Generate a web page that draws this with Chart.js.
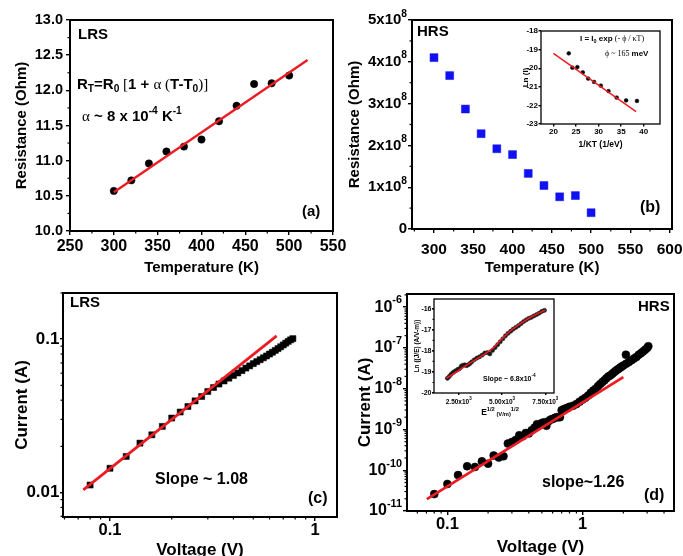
<!DOCTYPE html>
<html>
<head>
<meta charset="utf-8">
<script src="https://cdn.jsdelivr.net/npm/chart.js@4.4.1/dist/chart.umd.min.js"></script>
<style>
  html, body { margin: 0; background: #fff; }
  #wrap { position: relative; width: 683px; height: 556px; overflow: hidden; background: #fff; }
  #wrap canvas { position: absolute; left: 0; top: 0; }
</style>
</head>
<body>
<div id="wrap">
  <canvas id="chartA" width="683" height="556"></canvas>
  <canvas id="chartB" width="683" height="556"></canvas>
  <canvas id="chartBin" width="683" height="556"></canvas>
  <canvas id="chartC" width="683" height="556"></canvas>
  <canvas id="chartD" width="683" height="556"></canvas>
  <canvas id="chartDin" width="683" height="556"></canvas>
</div>
<script>
/* ---------- data ---------- */

// (a) LRS: resistance vs temperature
const tempA = [300, 320, 340, 360, 380, 400, 420, 440, 460, 480, 500];
const resA = [10.57, 10.72, 10.96, 11.13, 11.20, 11.30, 11.56, 11.78, 12.09, 12.10, 12.21];
const fitAT = [300, 521];
const fitAR = [10.55, 12.43];
const ticksAX = [250, 300, 350, 400, 450, 500, 550];
const ticksAY = [10, 10.5, 11, 11.5, 12, 12.5, 13];

// (b) HRS: resistance vs temperature
const tempB = [300, 320, 340, 360, 380, 400, 420, 440, 460, 480, 500];
const resB = [4.10e8, 3.67e8, 2.87e8, 2.28e8, 1.92e8, 1.78e8, 1.33e8, 1.04e8, 0.77e8, 0.80e8, 0.39e8];
const ticksBX = [300, 350, 400, 450, 500, 550, 600];
const ticksBY = [0, 1e8, 2e8, 3e8, 4e8, 5e8];

// (b) inset: Ln(I) vs 1/kT
const invKT = [23.4, 24.2, 25.3, 26.5, 27.7, 29.0, 30.5, 32.2, 34.0, 36.1, 38.5];
const lnI = [-19.20, -19.97, -19.94, -20.22, -20.56, -20.74, -20.94, -21.23, -21.58, -21.73, -21.76];
const fitBinX = [20, 38.3];
const fitBinY = [-19.2, -22.34];
const ticksBinX = [20, 25, 30, 35, 40];
const ticksBinY = [-23, -22, -21, -20, -19, -18];

// (c) LRS: I-V, log-log
const voltC = [0.08, 0.10, 0.12, 0.14, 0.16, 0.18, 0.20, 0.22, 0.24, 0.26, 0.28, 0.30, 0.32, 0.34, 0.36, 0.38,
  0.40, 0.42, 0.44, 0.46, 0.48, 0.50, 0.52, 0.54, 0.56, 0.58, 0.60, 0.62, 0.64, 0.66, 0.68, 0.70, 0.72, 0.74, 0.76, 0.78];
const curC = [0.0112, 0.0144, 0.0172, 0.0210, 0.0238, 0.0270, 0.0306, 0.0335, 0.0364, 0.0396, 0.0423, 0.0456,
  0.0484, 0.0510, 0.0534, 0.0557, 0.0580, 0.0602, 0.0624, 0.0648, 0.0670, 0.0693, 0.0714, 0.0735, 0.0756, 0.0777,
  0.0800, 0.0822, 0.0845, 0.0868, 0.0892, 0.0917, 0.0942, 0.0967, 0.0990, 0.1008];
const fitCV = [0.0741, 0.65];
const fitCI = [0.0104, 0.105];
const ticksCX = [0.1, 1];
const ticksCY = [0.01, 0.1];

// (d) HRS: I-V, log-log
const voltD = [0.08, 0.10, 0.12, 0.14, 0.16, 0.18, 0.20, 0.22, 0.24, 0.26, 0.28, 0.30, 0.32, 0.34, 0.36, 0.38,
  0.40, 0.42, 0.44, 0.46, 0.48, 0.50, 0.52, 0.54, 0.56, 0.58, 0.60, 0.62, 0.64, 0.66, 0.68, 0.70, 0.72, 0.74,
  0.76, 0.78, 0.80, 0.85, 0.90, 0.95, 1.00, 1.05, 1.10, 1.15, 1.20, 1.25, 1.30, 1.35, 1.40, 1.45, 1.50, 1.55,
  1.60, 1.65, 1.70, 1.75, 1.80, 1.85, 1.90, 1.95, 2.00, 2.09, 2.10, 2.20, 2.30, 2.40, 2.50, 2.60, 2.70, 2.80,
  2.90, 3.00, 3.06];
const curD = [2.6e-11, 4.6e-11, 7.6e-11, 1.25e-10, 1.2e-10, 1.65e-10, 1.45e-10, 2.3e-10, 2.05e-10, 2.2e-10,
  4.5e-10, 4.9e-10, 5.5e-10, 7.2e-10, 6.8e-10, 8.2e-10, 8.0e-10, 9.5e-10, 1.1e-9, 1.35e-9, 1.3e-9, 1.45e-9,
  1.5e-9, 1.23e-9, 1.6e-9, 1.75e-9, 1.8e-9, 1.9e-9, 2.0e-9, 2.0e-9, 2.0e-9, 2.95e-9, 3.1e-9, 3.2e-9, 3.3e-9,
  3.4e-9, 3.6e-9, 3.8e-9, 4.2e-9, 4.8e-9, 5.4e-9, 6.0e-9, 6.8e-9, 8.0e-9, 9.0e-9, 1.0e-8, 1.15e-8, 1.3e-8,
  1.45e-8, 1.6e-8, 1.8e-8, 2.0e-8, 2.1e-8, 2.3e-8, 2.5e-8, 2.7e-8, 2.9e-8, 3.1e-8, 3.3e-8, 3.5e-8, 3.7e-8,
  6.8e-8, 4.1e-8, 4.5e-8, 5.0e-8, 5.5e-8, 6.0e-8, 6.8e-8, 7.4e-8, 8.2e-8, 9.0e-8, 1.0e-7, 1.1e-7];
const fitDV = [0.0705, 2.0];
const fitDI = [1.96e-11, 1.92e-8];
const ticksDX = [0.1, 1];
const ticksDY = [1e-11, 1e-10, 1e-9, 1e-8, 1e-7, 1e-6];

// (d) inset: Ln(J/E) vs E^1/2
const sqrtE = [1850, 1950, 2050, 2150, 2250, 2350, 2450, 2550, 2650, 2750, 2850, 2950, 3050, 3150, 3250, 3400,
  3550, 3700, 3850, 4000, 4150, 4300, 4450, 4600, 4750, 4900, 5050, 5200, 5350, 5500, 5650, 5800, 5950, 6100,
  6250, 6400, 6550, 6700, 6850, 7000, 7150, 7300, 7450];
const lnJE = [-19.30, -19.22, -19.12, -19.04, -18.98, -18.93, -18.88, -18.84, -18.72, -18.68, -18.66, -18.70,
  -18.66, -18.60, -18.52, -18.42, -18.34, -18.28, -18.20, -18.10, -18.08, -18.14, -17.98, -17.84, -17.70, -17.56,
  -17.42, -17.28, -17.16, -17.06, -16.96, -16.88, -16.80, -16.70, -16.60, -16.52, -16.45, -16.40, -16.33, -16.27,
  -16.20, -16.12, -16.07];
const fitDinX = [1800, 2500, 3000, 3500, 4000, 4500, 5000, 5500, 6000, 6500, 7000, 7500];
const fitDinY = [-19.30, -18.93, -18.65, -18.40, -18.15, -17.85, -17.42, -17.03, -16.74, -16.47, -16.25, -16.05];
const ticksDinX = [2500, 5000, 7500];
const ticksDinY = [-20, -19, -18, -17, -16];

/* ---------- helpers ---------- */

const FONT = "'Liberation Sans', Arial, sans-serif";
const SERIF = "'Liberation Serif', 'Times New Roman', serif";
const RED = '#ec1c24';

const pts = (xs, ys) => xs.map((x, i) => ({ x, y: ys[i] }));

function linMinor(from, to, step) {
  const out = [];
  for (let v = from; v <= to + 1e-9; v += step) out.push(+v.toFixed(6));
  return out;
}
function logMinor(lo, hi) {
  const out = [];
  for (let e = Math.floor(Math.log10(lo)); e <= Math.ceil(Math.log10(hi)); e++) {
    for (let m = 2; m <= 9; m++) {
      const v = +(m * Math.pow(10, e)).toPrecision(6);
      if (v >= lo && v <= hi) out.push(v);
    }
  }
  return out;
}

// text with super/subscripts: parts = [[text, mode]], mode '' | 'sup' | 'sub' | 'low' | 'n' (serif, normal)
function drawRich(ctx, parts, x, y, align, size, rot) {
  ctx.save();
  ctx.translate(x, y);
  if (rot) ctx.rotate(rot);
  ctx.textBaseline = 'middle';
  ctx.textAlign = 'left';
  ctx.fillStyle = '#000';
  const items = parts.map(([t, m]) => {
    const small = m === 'sup' || m === 'sub' || m === 'low';
    const s = small ? size * 0.68 : size;
    const f = m === 'n' ? `normal ${s}px ${SERIF}` : `bold ${s}px ${FONT}`;
    ctx.font = f;
    const dy = m === 'sup' ? -size * 0.42 : m === 'sub' ? size * 0.3 : m === 'low' ? size * 0.12 : 0;
    return { t, f, w: ctx.measureText(t).width, dy };
  });
  const total = items.reduce((a, it) => a + it.w, 0);
  let cx = align === 'right' ? -total : align === 'center' ? -total / 2 : 0;
  items.forEach(it => { ctx.font = it.f; ctx.fillText(it.t, cx, it.dy); cx += it.w; });
  ctx.restore();
}

const panelPlugin = {
  id: 'panel',
  beforeDraw(chart, args, o) {
    if (!o.fill) return;
    const a = chart.chartArea;
    chart.ctx.save();
    chart.ctx.fillStyle = '#fff';
    chart.ctx.fillRect(a.left, a.top, a.right - a.left, a.bottom - a.top);
    chart.ctx.restore();
  },
  afterDraw(chart, args, o) {
    const { ctx, chartArea: a, scales } = chart;
    ctx.save();
    ctx.strokeStyle = '#000';
    ctx.lineWidth = 1.2;
    const len = o.minorLen || 2.5;
    (o.minorX || []).forEach(v => {
      const px = scales.x.getPixelForValue(v);
      ctx.beginPath(); ctx.moveTo(px, a.bottom); ctx.lineTo(px, a.bottom + len); ctx.stroke();
    });
    (o.minorY || []).forEach(v => {
      const py = scales.y.getPixelForValue(v);
      ctx.beginPath(); ctx.moveTo(a.left, py); ctx.lineTo(a.left - len, py); ctx.stroke();
    });
    ctx.lineWidth = o.frame || 2;
    ctx.strokeRect(a.left, a.top, a.right - a.left, a.bottom - a.top);
    ctx.restore();
    if (o.yLabel) scales.y.ticks.forEach(t =>
      drawRich(ctx, o.yLabel(t.value), a.left - o.yGap, scales.y.getPixelForValue(t.value), 'right', o.tickSize));
    if (o.xLabel) scales.x.ticks.forEach(t =>
      drawRich(ctx, o.xLabel(t.value), scales.x.getPixelForValue(t.value), a.bottom + o.xGap, 'center', o.tickSize));
    (o.notes || []).forEach(n => drawRich(ctx, n.parts, n.x, n.y, n.align || 'left', n.size, n.rot));
  }
};

function scale(o) {
  const vert = o.pos === 'left';
  return {
    type: o.type || 'linear', position: o.pos, min: o.min, max: o.max,
    grid: { drawOnChartArea: false, drawTicks: true, tickLength: o.tl, color: '#000', lineWidth: 1.4 },
    border: { display: false },
    ticks: {
      display: !o.rich, color: '#000', padding: o.pad || 0, autoSkip: false, maxRotation: 0, minRotation: 0,
      font: { family: FONT, weight: 'bold', size: o.size || 12 }, callback: o.fmt || (v => String(v)),
    },
    title: {
      display: !!o.title, text: o.title, color: '#000', padding: o.tpad || 0,
      font: { family: FONT, weight: 'bold', size: o.tsize },
    },
    afterBuildTicks: s => { s.ticks = o.ticks.map(v => ({ value: v })); },
    afterFit: s => {
      if (vert) s.width = o.box; else s.height = o.box;
      s.paddingLeft = s.paddingRight = s.paddingTop = s.paddingBottom = 0;
    },
  };
}

const dots = (xs, ys, r, color, style) => ({
  data: pts(xs, ys), pointRadius: r, pointStyle: style || 'circle',
  pointBackgroundColor: color, pointBorderColor: color, pointBorderWidth: 0.5, showLine: false,
});
const fit = (xs, ys, w) => ({
  data: pts(xs, ys), showLine: true, pointRadius: 0, borderColor: RED, borderWidth: w, tension: 0,
});

function make(id, datasets, padding, x, y, panel) {
  return new Chart(document.getElementById(id), {
    type: 'scatter',
    data: { datasets },
    options: {
      responsive: false, animation: false, events: [],
      layout: { padding },
      plugins: { legend: { display: false }, tooltip: { enabled: false }, panel },
      scales: { x, y },
    },
    plugins: [panelPlugin],
  });
}

/* ---------- (a) ---------- */
make('chartA',
  [fit(fitAT, fitAR, 2.4), dots(tempA, resA, 3.7, '#000')],
  { left: 13, top: 20, right: 350, bottom: 279 },
  scale({ pos: 'bottom', min: 250, max: 550, ticks: ticksAX, tl: 4, pad: 1.5, size: 16, title: 'Temperature (K)', tsize: 15, box: 46 }),
  scale({ pos: 'left', min: 10, max: 13, ticks: ticksAY, tl: 4, pad: 3, size: 14.5, fmt: v => v.toFixed(1), title: 'Resistance (Ohm)', tsize: 15, box: 57 }),
  {
    minorX: linMinor(275, 525, 50), minorY: linMinor(10.25, 12.75, 0.5),
    notes: [
      { x: 78, y: 35, size: 15, parts: [['LRS', '']] },
      { x: 77, y: 85, size: 15, parts: [['R', ''], ['T', 'sub'], ['=R', ''], ['0', 'sub'], [' [', 'n'], ['1 + ', ''], ['α', 'n'], [' (', 'n'], ['T-T', ''], ['0', 'sub'], [')]', 'n']] },
      { x: 82, y: 117, size: 15, parts: [['α', 'n'], [' ~ ', ''], ['8 x 10', ''], ['-4', 'sup'], [' K', ''], ['-1', 'sup']] },
      { x: 302, y: 212, size: 15, parts: [['(a)', '']] },
    ],
  });

/* ---------- (b) ---------- */
make('chartB',
  [dots(tempB, resB, 5.6, '#1010f0', 'rect')],
  { left: 346, top: 20, right: 11, bottom: 279 },
  scale({ pos: 'bottom', min: 272, max: 603, ticks: ticksBX, tl: 4, pad: 7, size: 15.5, title: 'Temperature (K)', tsize: 15, box: 48 }),
  scale({ pos: 'left', min: 0, max: 5e8, ticks: ticksBY, tl: 4, rich: true, title: 'Resistance (Ohm)', tsize: 15, box: 66 }),
  {
    minorX: linMinor(275, 575, 50), minorY: linMinor(0.5e8, 4.5e8, 1e8),
    yLabel: v => v === 0 ? [['0', '']] : [[`${v / 1e8}x10`, ''], ['8', 'sup']], yGap: 5, tickSize: 15,
    notes: [
      { x: 417, y: 32, size: 15, parts: [['HRS', '']] },
      { x: 640, y: 208, size: 16, parts: [['(b)', '']] },
    ],
  });

make('chartBin',
  [fit(fitBinX, fitBinY, 1.5), dots(invKT, lnI, 1.9, '#000')],
  { left: 521, top: 31, right: 23, bottom: 406.5 },
  scale({ pos: 'bottom', min: 17.25, max: 43.6, ticks: ticksBinX, tl: 2.5, pad: 0.5, size: 8, title: '1/KT (1/eV)', tsize: 8.5, box: 25.5 }),
  scale({ pos: 'left', min: -23, max: -18, ticks: ticksBinY, tl: 2.5, pad: 0.5, size: 8, title: 'Ln (I)', tsize: 8, box: 20 }),
  {
    fill: true, frame: 1.3, minorLen: 1.5,
    notes: [
      { x: 580, y: 39, size: 8, parts: [['I = I', ''], ['0', 'sub'], [' exp ', ''], ['(- ϕ / κT)', 'n']] },
      { x: 605, y: 54, size: 8, parts: [['ϕ ~ 165 ', 'n'], ['meV', '']] },
    ],
  });

/* ---------- (c) ---------- */
make('chartC',
  [fit(fitCV, fitCI, 2.8), dots(voltC, curC, 4.3, '#000', 'rect')],
  { left: 11.8, top: 293, right: 346, bottom: 0 },
  scale({ type: 'logarithmic', pos: 'bottom', min: 0.059, max: 1.28, ticks: ticksCX, tl: 4, pad: 0, size: 16.5, title: 'Voltage (V)', tsize: 17, tpad: { top: 0, bottom: -5 }, box: 39 }),
  scale({ type: 'logarithmic', pos: 'left', min: 0.00693, max: 0.2, ticks: ticksCY, tl: 3, pad: 0.5, size: 17, title: 'Current (A)', tsize: 17, box: 51.2 }),
  {
    minorX: logMinor(0.059, 1.28), minorY: logMinor(0.00693, 0.2),
    notes: [
      { x: 70, y: 303, size: 15, parts: [['LRS', '']] },
      { x: 155, y: 480, size: 16, parts: [['Slope ~ 1.08', '']] },
      { x: 308, y: 499, size: 16, parts: [['(c)', '']] },
    ],
  });

/* ---------- (d) ---------- */
make('chartD',
  [fit(fitDV, fitDI, 2.8), dots(voltD, curD, 4, '#000')],
  { left: 354.8, top: 294, right: 9, bottom: 0 },
  scale({ type: 'logarithmic', pos: 'bottom', min: 0.0503, max: 4.74, ticks: ticksDX, tl: 4, pad: 0, size: 16.5, title: 'Voltage (V)', tsize: 17, tpad: { top: 0, bottom: -1.2 }, box: 45 }),
  scale({ type: 'logarithmic', pos: 'left', min: 1e-11, max: 2.1e-6, ticks: ticksDY, tl: 4, rich: true, title: 'Current (A)', tsize: 17, box: 52.2 }),
  {
    minorX: logMinor(0.0503, 4.74), minorY: logMinor(1e-11, 2.1e-6),
    yLabel: v => [['10', ''], [String(Math.round(Math.log10(v))), 'sup']], yGap: 5, tickSize: 16,
    notes: [
      { x: 638, y: 307, size: 15, parts: [['HRS', '']] },
      { x: 542, y: 483, size: 16, parts: [['slope~1.26', '']] },
      { x: 644, y: 496, size: 16, parts: [['(d)', '']] },
    ],
  });

make('chartDin',
  [fit(fitDinX, fitDinY, 1.6), dots(sqrtE, lnJE, 2.1, '#1a1a1a')],
  { left: 413, top: 299, right: 129, bottom: 143 },
  scale({ pos: 'bottom', min: 1075, max: 8000, ticks: ticksDinX, tl: 2, rich: true, box: 20 }),
  scale({ pos: 'left', min: -20, max: -15.53, ticks: ticksDinY, tl: 2, pad: 0.5, size: 7, title: 'Ln ((J/E) (A/V-m))', tsize: 6.5, box: 21 }),
  {
    fill: true, frame: 1.3, minorLen: 1.5,
    minorY: linMinor(-19.5, -16, 0.5),
    xLabel: v => [[(v / 1000).toFixed(2) + 'x10', ''], ['3', 'sup']], xGap: 9, tickSize: 6.5,
    notes: [
      { x: 483, y: 379, size: 7, parts: [['Slope ~ 6.8x10', ''], ['-4', 'sup']] },
      { x: 500, y: 413, size: 8.5, align: 'center', parts: [['E', ''], ['1/2', 'sup'], [' (V/m)', 'low'], ['1/2', 'sup']] },
    ],
  });
</script>
</body>
</html>
